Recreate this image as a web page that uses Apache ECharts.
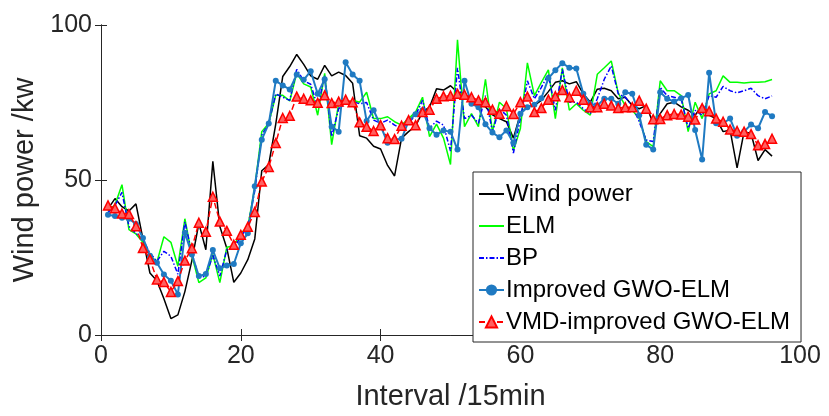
<!DOCTYPE html>
<html>
<head>
<meta charset="utf-8">
<script src="https://cdn.jsdelivr.net/npm/echarts@6/dist/echarts.min.js"></script>
<style>
  html, body { margin: 0; padding: 0; background: #fff; }
  #chart { width: 829px; height: 416px; }
</style>
</head>
<body>
<div id="chart"></div>
<script>
"use strict";

const seriesNames = [
  "Wind power",
  "ELM",
  "BP",
  "Improved GWO-ELM",
  "VMD-improved GWO-ELM"
];

const windPower = [
  40.7, 44, 41.4, 40, 42.3, 31, 20, 17.5, 11.7, 5.3, 6.5, 14, 24, 36, 27.5, 56,
  35, 28, 17, 20, 24.3, 31, 53, 55, 68, 83.4, 86.6, 90.5, 87.3, 83.6, 82.5, 87,
  83.6, 84.8, 83.7, 81.2, 64.3, 63.5, 60.9, 60, 54.7, 51.3, 63.5, 65.6, 67.4, 72, 73.5, 79.4,
  79, 80.4, 78.3, 78, 75.7, 74.1, 73.6, 71, 69.8, 68.8, 63.5, 71.4, 73.6, 74.1, 75.7, 78.5,
  81.5, 82, 81, 81.7, 77.8, 75.1, 79.3, 79.6, 78.8, 76.2, 76.7, 74, 73, 74, 68.2, 71.4,
  74.6, 75.1, 73.6, 72.5, 70.9, 74.1, 70.9, 69.8, 65.6, 66.1, 53.9, 65.6, 65, 56.3, 59.8, 57.7
];

const elm = [
  40, 42, 48.5, 34, 32.6, 29.9, 25.7, 23.5, 31.7, 29.9, 22.2, 37.5, 25.7, 16.9, 18.4, 26,
  16.9, 28.3, 28.8, 32.8, 34.9, 47.6, 65.6, 68.3, 77.3, 77.3, 75.5, 84.4, 81, 80, 70.9, 84.4,
  61.4, 74.6, 74.6, 75.7, 75.1, 78.3, 69.8, 69.8, 70.4, 68.8, 67.7, 69.8, 71.9, 76.7, 64, 68,
  63.5, 55, 95.2, 67.2, 71.4, 67.2, 82.5, 65.6, 75.1, 73, 59.5, 66.6, 87.8, 77.2, 81.5, 85.5,
  69.8, 86.2, 72.5, 74.6, 72.5, 70.9, 84.1, 86.2, 88.4, 78, 74, 72.5, 69.8, 62.4, 60.8, 82,
  78.8, 78.8, 77.2, 65.6, 75.1, 69.8, 77.8, 78.8, 83.6, 81.5, 81.5, 81.3, 81.5, 81.5, 81.7, 82.4
];

const bp = [
  39.5, 41.8, 46, 35, 32.8, 30.7, 26.4, 23.8, 27, 25.4, 19.6, 36.5, 26.4, 18.5, 19, 25.7,
  19, 27.5, 28, 31.7, 34.9, 46.5, 64.5, 68.3, 77.8, 76.7, 75.7, 85.7, 82, 80.9, 73.5, 83.6,
  64, 73, 74.6, 75.3, 74.6, 75, 69.3, 68.3, 69.3, 67.7, 66.7, 68.3, 70.9, 75.7, 66.7, 69,
  67.7, 59.3, 86.2, 69.8, 70.9, 68.3, 77.2, 65.6, 73, 70.9, 58.7, 69.8, 82, 76.2, 79.9, 84.1,
  72.5, 85.7, 75.1, 75.1, 73, 71.4, 76.2, 82.5, 86.8, 77.8, 76.7, 74, 68.8, 62.9, 62.4, 79.9,
  77.2, 76.7, 76.2, 66.7, 72.5, 70.9, 77.2, 76.7, 80.2, 78.8, 78.1, 78.8, 79.6, 77.2, 76.2, 77.1
];

const gwoElm = [
  38.8, 38.4, 37.8, 37.5, 35.8, 31.3, 25.6, 23.3, 19.5, 17.5, 13.1, 33, 26, 19, 19.7, 27.4,
  21.5, 22.4, 22.9, 29.6, 32.8, 48, 63, 68.2, 82, 80.5, 79.2, 84, 82.3, 85.1, 77.8, 82.5,
  67.2, 65.6, 88, 84, 82, 69, 72.5, 67.5, 62, 63, 63.3, 69, 71.2, 72.5, 66.7, 64.6,
  66, 65.6, 59.8, 82, 74.6, 73.5, 68, 65.3, 63.8, 66, 61.9, 71.4, 73.5, 74.3, 76.4, 82.8,
  85.4, 87.7, 86.2, 86, 77.8, 74.5, 74, 76.2, 76.2, 74.6, 78.3, 77.8, 70.9, 61.4, 59.8, 78.3,
  76.2, 75.3, 76.4, 77.4, 66.1, 56.6, 84.6, 68.3, 68.3, 69.8, 64.3, 65.6, 67.9, 66.7, 71.9, 70.6
];

const vmdGwoElm = [
  41.8, 40.9, 39.2, 39, 35.1, 28.1, 24.4, 17.9, 17.1, 13.9, 17.4, 24, 28, 36.2, 33.3, 44.6,
  36.6, 33.6, 29.1, 32.3, 34.9, 39.7, 49.5, 54.2, 61.9, 70, 70.7, 76.9, 76.2, 75.7, 74.9, 77.3,
  74.8, 75.3, 75.9, 75.1, 68.6, 67.2, 65.8, 67.7, 63.5, 63.2, 67.5, 69.3, 67.7, 71.9, 72.7, 76.2,
  77, 77.2, 77.8, 77.5, 76.7, 75.7, 75.1, 72.7, 71.4, 73.8, 71.3, 75.1, 76.9, 71.9, 73.2, 75.9,
  77, 79, 76.7, 78.8, 75.9, 73.5, 73.5, 74.6, 74, 73.2, 73.5, 73.5, 75.6, 73, 69.6, 69.7,
  70.9, 71.3, 71.1, 70.4, 69.5, 73.2, 72.2, 69.8, 68.8, 66.3, 65.8, 65.6, 64.8, 61.2, 61.6, 63.3
];

const xTicks = [0, 20, 40, 60, 80, 100];
const yTicks = [0, 50, 100];

const FONT = "'Liberation Sans', Arial, sans-serif";
const AXIS_COLOR = "#262626";

// pair each value with its interval index (1..n)
function toPoints(values) {
  return values.map((v, i) => [i + 1, v]);
}

function axisCommon(extra) {
  return Object.assign(
    {
      type: "value",
      axisLine: { show: true, lineStyle: { color: AXIS_COLOR, width: 1 } },
      axisTick: { show: true, inside: true, length: 6, lineStyle: { color: AXIS_COLOR } },
      splitLine: { show: false }
    },
    extra
  );
}

const chart = echarts.init(document.getElementById("chart"), null, {
  renderer: "canvas"
});

const labelStyle = { color: AXIS_COLOR, fontFamily: FONT, fontSize: 25 };
const nameStyle = { color: AXIS_COLOR, fontFamily: FONT, fontSize: 29 };

// plain line series have no marker in the legend
const legendData = seriesNames.map((name, i) =>
  i < 3 ? { name, itemStyle: { opacity: 0 } } : { name }
);

chart.setOption({
  animation: false,
  backgroundColor: "#fff",
  grid: { left: 101, right: 29, top: 25, bottom: 76, containLabel: false },
  xAxis: [
    axisCommon({
      min: xTicks[0],
      max: xTicks[xTicks.length - 1],
      interval: xTicks[1] - xTicks[0],
      name: "Interval /15min",
      nameLocation: "middle",
      nameGap: 47,
      nameTextStyle: nameStyle,
      axisLabel: Object.assign({ margin: 9 }, labelStyle)
    }),
    axisCommon({
      position: "top",
      min: xTicks[0],
      max: xTicks[xTicks.length - 1],
      interval: xTicks[1] - xTicks[0],
      axisLabel: { show: false }
    })
  ],
  yAxis: [
    axisCommon({
      min: yTicks[0],
      max: yTicks[yTicks.length - 1],
      interval: yTicks[1] - yTicks[0],
      name: "Wind power /kw",
      nameLocation: "middle",
      nameGap: 62,
      nameTextStyle: nameStyle,
      axisLabel: Object.assign({ margin: 9 }, labelStyle)
    }),
    axisCommon({
      position: "right",
      min: yTicks[0],
      max: yTicks[yTicks.length - 1],
      interval: yTicks[1] - yTicks[0],
      axisLabel: { show: false }
    })
  ],
  legend: {
    orient: "vertical",
    left: 473,
    top: 172,
    padding: [10, 11, 8, 5],
    itemGap: 8,
    itemWidth: 25,
    itemHeight: 14,
    backgroundColor: "#fff",
    borderColor: AXIS_COLOR,
    borderWidth: 1,
    borderRadius: 0,
    data: legendData,
    textStyle: { color: "#000", fontFamily: FONT, fontSize: 24, lineHeight: 20, padding: [0, 0, 0, -3] }
  },
  series: [
    {
      name: seriesNames[0],
      type: "line",
      data: toPoints(windPower),
      symbol: "none",
      lineStyle: { color: "#000", width: 1.5 },
      itemStyle: { color: "#000" },
      z: 2
    },
    {
      name: seriesNames[1],
      type: "line",
      data: toPoints(elm),
      symbol: "none",
      lineStyle: { color: "#00ff00", width: 1.5 },
      itemStyle: { color: "#00ff00" },
      z: 3
    },
    {
      name: seriesNames[2],
      type: "line",
      data: toPoints(bp),
      symbol: "none",
      lineStyle: { color: "#0000ff", width: 1.5, type: [5, 2, 1.5, 2] },
      itemStyle: { color: "#0000ff" },
      z: 4
    },
    {
      name: seriesNames[3],
      type: "line",
      data: toPoints(gwoElm),
      symbol: "circle",
      symbolSize: 6,
      lineStyle: { color: "#1f7ac2", width: 2 },
      itemStyle: { color: "#1f7ac2" },
      z: 5
    },
    {
      name: seriesNames[4],
      type: "line",
      data: toPoints(vmdGwoElm),
      symbol: "triangle",
      symbolSize: 9,
      lineStyle: { color: "#ff0000", width: 1.5, type: [6, 3] },
      itemStyle: { color: "#ff6060", borderColor: "#ff0000", borderWidth: 1.5 },
      z: 6
    }
  ]
});

window.onresize = () => {
  chart.resize();
};
</script>
</body>
</html>
